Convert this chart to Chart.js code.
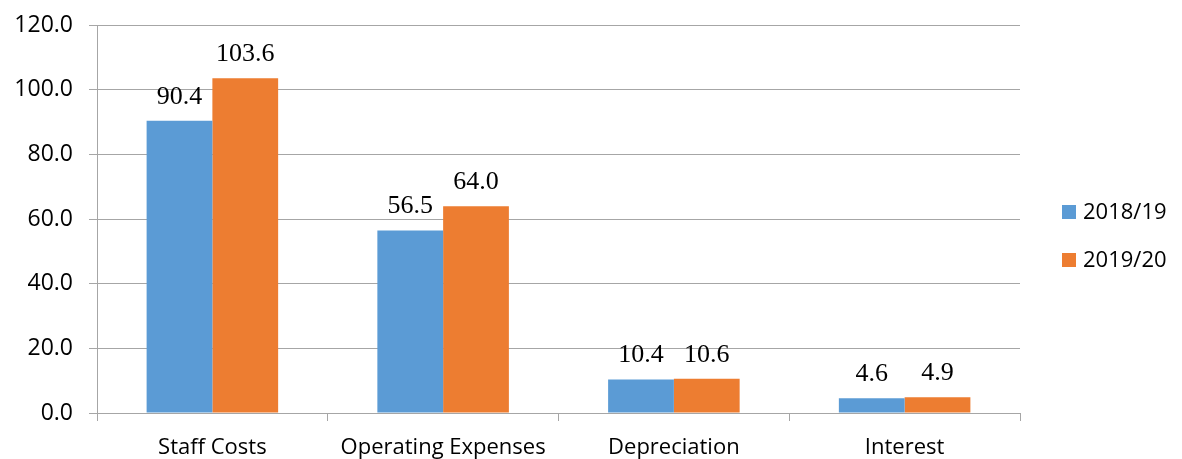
<!DOCTYPE html>
<html>
<head>
<meta charset="utf-8">
<script src="https://cdn.jsdelivr.net/npm/chart.js@4/dist/chart.umd.min.js"></script>
<style>
  html, body { margin: 0; padding: 0; background: #fff; }
  #wrap { width: 1182px; height: 459px; }
</style>
</head>
<body>
<div id="wrap"><canvas id="c" width="1182" height="459"></canvas></div>
<script>
// Expense categories and yearly totals
const categories = ['Staff Costs', 'Operating Expenses', 'Depreciation', 'Interest'];
const seriesNames = ['2018/19', '2019/20'];
const values2018 = [90.4, 56.5, 10.4, 4.6];
const values2019 = [103.6, 64.0, 10.6, 4.9];
const yTicks = [0, 20, 40, 60, 80, 100, 120];

const colors = ['#5b9bd5', '#ed7d31'];
const axisFont = { family: '"Open Sans", "Liberation Sans", sans-serif', size: 22 };
const yFont = { family: '"Open Sans", "Liberation Sans", sans-serif', size: 23, lineHeight: 0.8 };
const valueFont = '26px "Liberation Serif", "Times New Roman", serif';

// Value labels above each bar
const barValues = {
  id: 'barValues',
  afterDatasetsDraw(chart) {
    const ctx = chart.ctx;
    ctx.save();
    ctx.font = valueFont;
    ctx.fillStyle = '#000';
    ctx.textAlign = 'center';
    ctx.textBaseline = 'alphabetic';
    chart.data.datasets.forEach((ds, i) => {
      chart.getDatasetMeta(i).data.forEach((bar, j) => {
        ctx.fillText(ds.data[j].toFixed(1), bar.x, bar.y - 17);
      });
    });
    ctx.restore();
  }
};

// Legend on the right, square swatches
const sideLegend = {
  id: 'sideLegend',
  afterDraw(chart) {
    const ctx = chart.ctx;
    ctx.save();
    ctx.font = '22px "Open Sans", "Liberation Sans", sans-serif';
    ctx.textBaseline = 'middle';
    ctx.textAlign = 'left';
    chart.data.datasets.forEach((ds, i) => {
      const cy = 212 + i * 48;
      ctx.fillStyle = ds.backgroundColor;
      ctx.fillRect(1062, cy - 7, 14, 14);
      ctx.fillStyle = '#000';
      ctx.fillText(ds.label, 1083, cy + 1);
    });
    ctx.restore();
  }
};

new Chart(document.getElementById('c'), {
  type: 'bar',
  data: {
    labels: categories,
    datasets: [
      { label: seriesNames[0], data: values2018, backgroundColor: colors[0] },
      { label: seriesNames[1], data: values2019, backgroundColor: colors[1] }
    ]
  },
  options: {
    responsive: false,
    animation: false,
    devicePixelRatio: 1,
    layout: { padding: { top: 22, right: 162, left: 0, bottom: 0 } },
    datasets: { bar: { categoryPercentage: 0.57, barPercentage: 1.0 } },
    plugins: { legend: { display: false }, tooltip: { enabled: false } },
    scales: {
      x: {
        afterFit(s) { s.height = 46; },
        grid: { drawOnChartArea: false, drawTicks: true, tickLength: 8, color: '#a6a6a6', offset: true },
        border: { display: true, color: '#a6a6a6' },
        ticks: { color: '#000', font: axisFont, padding: 14 }
      },
      y: {
        min: 0, max: 120,
        afterFit(s) { s.width = 97; },
        afterBuildTicks(s) { s.ticks = yTicks.map(v => ({ value: v })); },
        grid: { color: '#a6a6a6', tickLength: 8, drawTicks: true },
        border: { display: true, color: '#a6a6a6' },
        ticks: { color: '#000', font: yFont, padding: 16, callback: v => Number(v).toFixed(1) }
      }
    }
  },
  plugins: [barValues, sideLegend]
});
</script>
</body>
</html>
